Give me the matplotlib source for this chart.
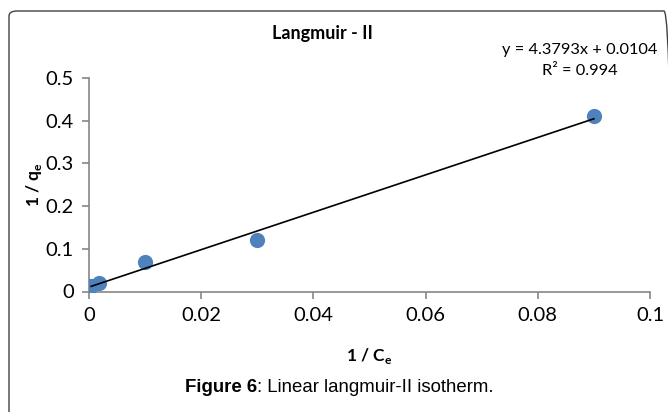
import numpy as np
import matplotlib
matplotlib.use('Agg')
import matplotlib.pyplot as plt
from matplotlib.patches import FancyBboxPatch

plt.rcParams['font.family'] = ['Lato', 'DejaVu Sans']
plt.rcParams['mathtext.fontset'] = 'custom'
plt.rcParams['mathtext.rm'] = 'Lato'
plt.rcParams['mathtext.bf'] = 'Lato:bold'

# data
inv_ce = [0.0004, 0.0018, 0.0100, 0.0299, 0.0900]
inv_qe = [0.012, 0.019, 0.069, 0.120, 0.410]
slope, intercept = 4.3793, 0.0104
xticks = [0, 0.02, 0.04, 0.06, 0.08, 0.1]
yticks = [0, 0.1, 0.2, 0.3, 0.4, 0.5]
xtick_labels = ['0', '0.02', '0.04', '0.06', '0.08', '0.1']
ytick_labels = ['0', '0.1', '0.2', '0.3', '0.4', '0.5']

W, H = 668, 412
fig = plt.figure(figsize=(W / 100, H / 100), dpi=100)

# rounded frame round the figure (right and bottom run off the edge)
frame = FancyBboxPatch((9 / W, -20 / H), (W + 4 - 9) / W, (H - 11 + 20) / H,
                       boxstyle='round,pad=0,rounding_size=0.012',
                       transform=fig.transFigure, fill=False,
                       edgecolor='#404040', linewidth=1.0)
fig.patches.append(frame)

ax = fig.add_axes([89 / W, (H - 291.5) / H, (650 - 89) / W, (291.5 - 78) / H])

ax.scatter(inv_ce, inv_qe, s=120, color='#4F81BD', zorder=3, linewidths=0)
xs = np.array([min(inv_ce), max(inv_ce)])
ax.plot(xs, slope * xs + intercept, color='black', linewidth=1.2, zorder=4)

ax.set_xlim(0, 0.1)
ax.set_ylim(0, 0.5)
ax.set_xticks(xticks)
ax.set_xticklabels(xtick_labels)
ax.set_yticks(yticks)
ax.set_yticklabels(ytick_labels)

for side in ['top', 'right']:
    ax.spines[side].set_visible(False)
for side in ['left', 'bottom']:
    ax.spines[side].set_color('#868686')
    ax.spines[side].set_linewidth(1.2)
ax.tick_params(direction='out', length=5, width=1.2, color='#868686',
               labelsize=14.5, labelcolor='black', pad=6)

ax.set_xlabel(r'1 / C$_\mathbf{e}$', fontsize=12.5, fontweight='bold', labelpad=16)
ax.set_ylabel(r'1 / q$_\mathbf{e}$', fontsize=12.5, fontweight='bold', labelpad=1)

fig.text(322 / W, 1 - 33 / H, 'Langmuir - II', fontsize=13, fontweight='bold',
         ha='center', va='center')
fig.text(580 / W, 1 - 50 / H, 'y = 4.3793x + 0.0104', fontsize=11.8,
         ha='center', va='center')
fig.text(580 / W, 1 - 71 / H, 'R² = 0.994', fontsize=11.8,
         ha='center', va='center')

t1 = fig.text(185 / W, 1 - 388 / H, 'Figure 6', fontsize=13.4, fontweight='bold',
              family='Liberation Sans', ha='left', va='center')
ax.annotate(': Linear langmuir-II isotherm.', xy=(1, 0), xycoords=t1,
            va='bottom', ha='left', fontsize=13.4, family='Liberation Sans',
            annotation_clip=False)

fig.savefig('out.png', dpi=100)
